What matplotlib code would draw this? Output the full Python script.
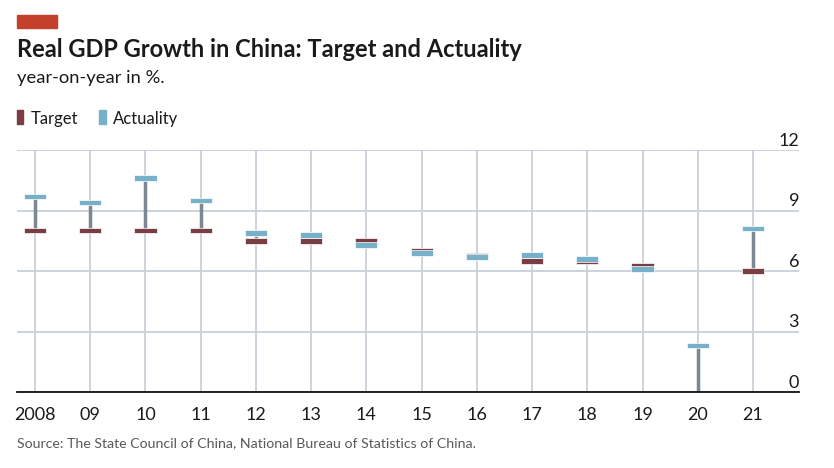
import numpy as np
import matplotlib
matplotlib.use("Agg")
import matplotlib.pyplot as plt
from matplotlib.patches import Rectangle

# data (% y/y)
years = ["2008", "09", "10", "11", "12", "13", "14", "15", "16", "17", "18", "19", "20", "21"]
target = [8, 8, 8, 8, 7.5, 7.5, 7.5, 7, 6.75, 6.5, 6.5, 6.25, np.nan, 6]
actual = [9.7, 9.4, 10.6, 9.5, 7.9, 7.8, 7.3, 6.9, 6.7, 6.8, 6.6, 6.1, 2.3, 8.1]
yticks = [0, 3, 6, 9, 12]

TARGET_C = "#7a3d44"
ACTUAL_C = "#76b0c9"
STEM_C = "#7b8792"
GRID_C = "#c9d0d9"
RED = "#c3402b"
TXT = "#1a1a1a"

plt.rcParams["font.family"] = ["Lato", "DejaVu Sans"]

W, H = 834, 468
fig = plt.figure(figsize=(W / 100, H / 100), dpi=100)
ax = fig.add_axes([17 / W, 1 - 392 / H, (799 - 17) / W, (392 - 150) / H])

x = np.arange(len(years))
t = np.array(target, dtype=float)
a = np.array(actual, dtype=float)

# stems from target (or zero) to actual
lo = np.where(np.isnan(t), 0, t)
ax.vlines(x, lo, a, color=STEM_C, lw=2.5, zorder=2)

mh = 0.28  # marker thickness in data units
ok = ~np.isnan(t)
ax.bar(x[ok], mh, width=0.4, bottom=t[ok] - mh / 2, color=TARGET_C,
       edgecolor="white", lw=0.5, zorder=3)
ax.bar(x, mh, width=0.4, bottom=a - mh / 2, color=ACTUAL_C,
       edgecolor="white", lw=0.5, zorder=4)

ax.set_xlim(-0.326, 13.833)
ax.set_ylim(0, 12)
ax.set_xticks(x)
ax.set_xticklabels(years)
ax.set_yticks(yticks)
ax.tick_params(axis="x", length=0, pad=10.5, labelsize=13, labelcolor=TXT)
ax.tick_params(axis="y", length=0, labelleft=False)
ax.grid(True, color=GRID_C, lw=1.3)
ax.set_axisbelow(True)
for s in ["top", "left", "right"]:
    ax.spines[s].set_visible(False)
ax.spines["bottom"].set_color("#111111")
ax.spines["bottom"].set_linewidth(1.3)
ax.spines["bottom"].set_zorder(5)

for v in yticks:
    ax.annotate(str(v), xy=(1, v), xycoords=ax.get_yaxis_transform(),
                xytext=(0, 3), textcoords="offset points",
                ha="right", va="baseline", fontsize=13, color=TXT)

# header
fig.patches.append(Rectangle((17 / W, 1 - 28 / H), 40 / W, 13 / H,
                             transform=fig.transFigure, color=RED))
fig.text(17 / W, 1 - 57 / H, "Real GDP Growth in China: Target and Actuality",
         fontsize=17, fontweight="bold", color=TXT, va="baseline")
fig.text(17 / W, 1 - 83 / H, "year-on-year in %.", fontsize=13.2, color=TXT, va="baseline")

# legend
fig.patches.append(Rectangle((17 / W, 1 - 124 / H), 6 / W, 14 / H,
                             transform=fig.transFigure, color=TARGET_C))
fig.text(31 / W, 1 - 124 / H, "Target", fontsize=12, color=TXT, va="baseline")
fig.patches.append(Rectangle((99 / W, 1 - 124 / H), 7 / W, 14 / H,
                             transform=fig.transFigure, color=ACTUAL_C))
fig.text(113 / W, 1 - 124 / H, "Actuality", fontsize=12, color=TXT, va="baseline")

fig.text(17 / W, 1 - 447 / H,
         "Source: The State Council of China, National Bureau of Statistics of China.",
         fontsize=10.2, color="#595959", va="baseline")

fig.savefig("out.png", dpi=100)
